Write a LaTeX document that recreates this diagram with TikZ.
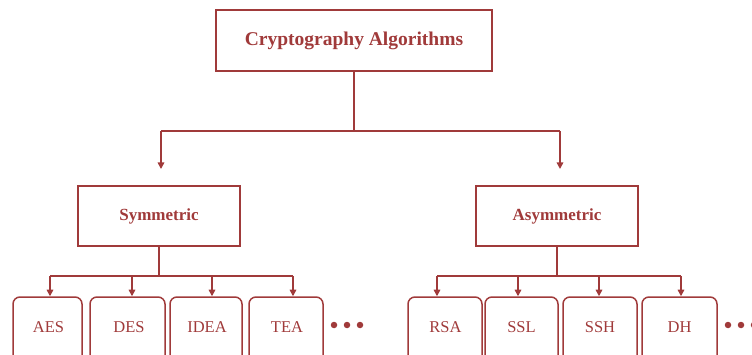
\documentclass[tikz,border=0pt]{standalone}
\usepackage{fontspec}
\setmainfont{Liberation Serif}
\usetikzlibrary{arrows.meta}
\definecolor{dred}{RGB}{160,58,58}
\begin{document}
\begin{tikzpicture}[x=1pt,y=-1pt,
  line width=1.5pt,
  mainbox/.style={draw=dred, text=dred, font=\bfseries, inner sep=0pt},
  leafbox/.style={draw=dred, text=dred, rounded corners=7pt, inner sep=0pt},
  conn/.style={draw=dred, -{Triangle[length=6.5pt,width=6.5pt]}},
  dotmark/.style={circle, fill=dred, inner sep=0pt, minimum size=6.5pt}]
\useasboundingbox (0,0) rectangle (752,355);
\clip (0,0) rectangle (752,355);
\node[mainbox, minimum width=276pt, minimum height=61pt, font=\bfseries\fontsize{19.5}{21}\selectfont] (root) at (354,40.5) {Cryptography Algorithms};
\node[mainbox, minimum width=162pt, minimum height=60pt, font=\bfseries\fontsize{17}{19}\selectfont] (sym) at (159,216) {Symmetric};
\node[mainbox, minimum width=162pt, minimum height=60pt, font=\bfseries\fontsize{17}{19}\selectfont] (asym) at (557,216) {Asymmetric};
% leaves
\node[leafbox, minimum width=69pt, minimum height=70pt] (aes) at (47.5,332) {};
\node[leafbox, minimum width=75pt, minimum height=70pt] (des) at (127.5,332) {};
\node[leafbox, minimum width=72pt, minimum height=70pt] (idea) at (206,332) {};
\node[leafbox, minimum width=74pt, minimum height=70pt] (tea) at (286,332) {};
\node[leafbox, minimum width=74pt, minimum height=70pt] (rsa) at (445,332) {};
\node[leafbox, minimum width=73pt, minimum height=70pt] (ssl) at (521.5,332) {};
\node[leafbox, minimum width=74pt, minimum height=70pt] (ssh) at (600,332) {};
\node[leafbox, minimum width=75pt, minimum height=70pt] (dh) at (679.5,332) {};
\foreach \n/\t/\xx in {aes/AES/48.5,des/DES/129,idea/IDEA/207,tea/TEA/287,rsa/RSA/445.5,ssl/SSL/521.5,ssh/SSH/600,dh/DH/679.5}
  \node[text=dred, font=\fontsize{16.5}{18}\selectfont, inner sep=0pt] (\n t) at (\xx,327) {\t};
% connectors
\coordinate (rj) at (354,131);
\coordinate (rl) at (161,131);
\coordinate (rr) at (560,131);
\coordinate (sa) at (161,169);
\coordinate (aa) at (560,169);
\coordinate (sj) at (159,276);
\coordinate (aj) at (557,276);
\draw[draw=dred] (root.south) -- (rj);
\draw[draw=dred] (rl) -- (rr);
\draw[conn] (rl) -- (sa);
\draw[conn] (rr) -- (aa);
\draw[draw=dred] (sym.south) -- (sj);
\draw[draw=dred] (50,276) -- (293,276);
\draw[draw=dred] (asym.south) -- (aj);
\draw[draw=dred] (437,276) -- (681,276);
\foreach \n/\xx in {aes/50,des/132,idea/212,tea/293}
  \draw[conn] (\xx,276) -- (\n.north -| \xx,0);
\foreach \n/\xx in {rsa/437,ssl/518,ssh/599,dh/681}
  \draw[conn] (\xx,276) -- (\n.north -| \xx,0);
% ellipsis dots
\foreach \i/\xx in {1/334,2/347,3/360,4/728,5/741,6/754}
  \node[dotmark] (dot\i) at (\xx,325) {};
\end{tikzpicture}
\end{document}
